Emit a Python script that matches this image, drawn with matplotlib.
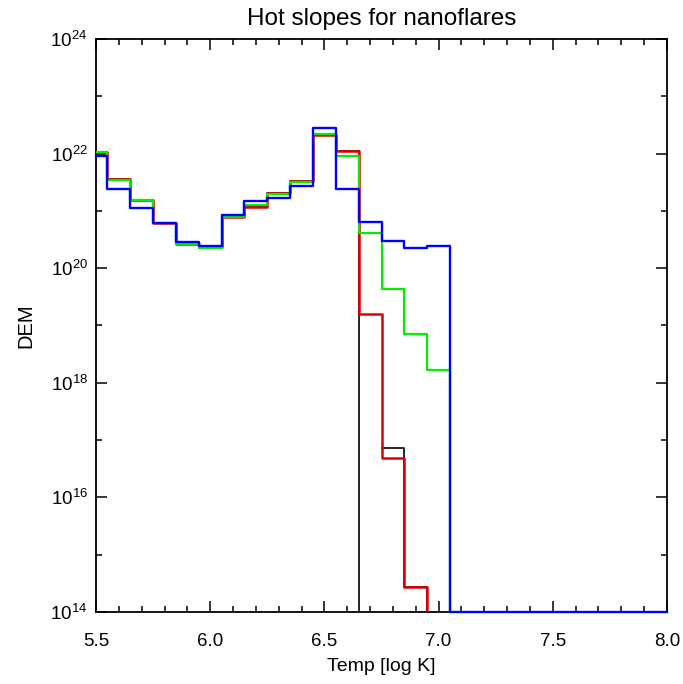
import matplotlib
matplotlib.use('Agg')
import matplotlib.pyplot as plt
import numpy as np
from matplotlib.ticker import MultipleLocator, FixedLocator, FuncFormatter

plt.rcParams['font.family'] = ['Liberation Sans', 'DejaVu Sans']
plt.rcParams['mathtext.fontset'] = 'custom'
plt.rcParams['mathtext.rm'] = 'Liberation Sans'
plt.rcParams['mathtext.it'] = 'Liberation Sans'

# bin centres (log T)
temp = [5.5, 5.6, 5.7, 5.8, 5.9, 6.0, 6.1, 6.2, 6.3, 6.4, 6.5, 6.6, 6.7,
        6.8, 6.9, 7.0, 7.1, 7.2, 7.3, 7.4, 7.5, 7.6, 7.7, 7.8, 7.9, 8.0]

# log10 DEM, None = empty bin (line breaks there)
log_black = [22.02, 21.56, 21.19, 20.78, 20.43, 20.37, 20.90, 21.07, 21.32, 21.52,
             22.32, 22.05, None, 16.86, 14.43, None, None, None, None, None,
             None, None, None, None, None, None]
log_red = [22.02, 21.56, 21.19, 20.78, 20.43, 20.37, 20.90, 21.07, 21.32, 21.52,
           22.32, 22.05, 19.20, 16.68, 14.43, None, None, None, None, None,
           None, None, None, None, None, None]
log_green = [22.03, 21.54, 21.19, 20.78, 20.42, 20.36, 20.89, 21.10, 21.29, 21.50,
             22.34, 21.96, 20.62, 19.63, 18.85, 18.22, None, None, None, None,
             None, None, None, None, None, None]
log_blue = [21.95, 21.38, 21.05, 20.78, 20.45, 20.39, 20.92, 21.18, 21.23, 21.44,
            22.45, 21.39, 20.81, 20.48, 20.36, 20.39, 14.0, 14.0, 14.0, 14.0,
            14.0, 14.0, 14.0, 14.0, 14.0, 14.0]


def tramos(valores):
    # each run of filled bins: falls to the floor after it, no rise before it
    salida = []
    i = 0
    n = len(valores)
    while i < n:
        if valores[i] is None:
            i += 1
            continue
        j = i
        while j < n and valores[j] is not None:
            j += 1
        ys = [np.nan] if i > 0 else []
        xs = [temp[i - 1]] if i > 0 else []
        xs += temp[i:j]
        ys += [10.0 ** v for v in valores[i:j]]
        if j < n:
            xs.append(temp[j])
            ys.append(0.0)
        salida.append((xs, ys, j < n))
        i = j
    return salida


def etiqueta_log(v, pos):
    if v <= 0:
        return ''
    return r'$10^{%d}$' % round(np.log10(v))


fig = plt.figure(figsize=(6.83, 6.84), dpi=100)
ax = fig.add_axes([0.1406, 0.1053, 0.836, 0.8377])
ax.set_yscale('log', nonpositive='clip')

series = [(log_black, 'black', 1.2), (log_red, '#e00000', 1.8),
          (log_green, '#00ee00', 1.6), (log_blue, '#0000ff', 1.7)]
for valores, color, ancho in series:
    for xs, ys, cae in tramos(valores):
        ax.step(xs, ys, where='mid', color=color, lw=ancho, clip_on=cae)

ax.set_xlim(5.5, 8.0)
ax.set_ylim(1e14, 1e24)
ax.xaxis.set_major_locator(MultipleLocator(0.5))
ax.xaxis.set_minor_locator(MultipleLocator(0.1))
ax.yaxis.set_major_locator(FixedLocator([1e14, 1e16, 1e18, 1e20, 1e22, 1e24]))
ax.yaxis.set_minor_locator(FixedLocator([1e15, 1e17, 1e19, 1e21, 1e23]))
ax.yaxis.set_major_formatter(FuncFormatter(etiqueta_log))
ax.yaxis.set_minor_formatter(FuncFormatter(lambda v, p: ''))

ax.tick_params(which='both', direction='in', top=True, right=True, width=1.1)
ax.tick_params(which='major', length=8)
ax.tick_params(which='minor', length=4)
ax.tick_params(axis='x', which='major', pad=15, labelsize=13.5)
ax.tick_params(axis='y', which='major', pad=6, labelsize=13.5)
for s in ax.spines.values():
    s.set_linewidth(1.3)
    s.set_zorder(0.5)

ax.set_title('Hot slopes for nanoflares', fontsize=17.5, pad=10)
ax.set_xlabel('Temp [log K]', fontsize=14, labelpad=6)
ax.set_ylabel('DEM', fontsize=14.5, labelpad=11)

fig.savefig('out.png', dpi=100)
